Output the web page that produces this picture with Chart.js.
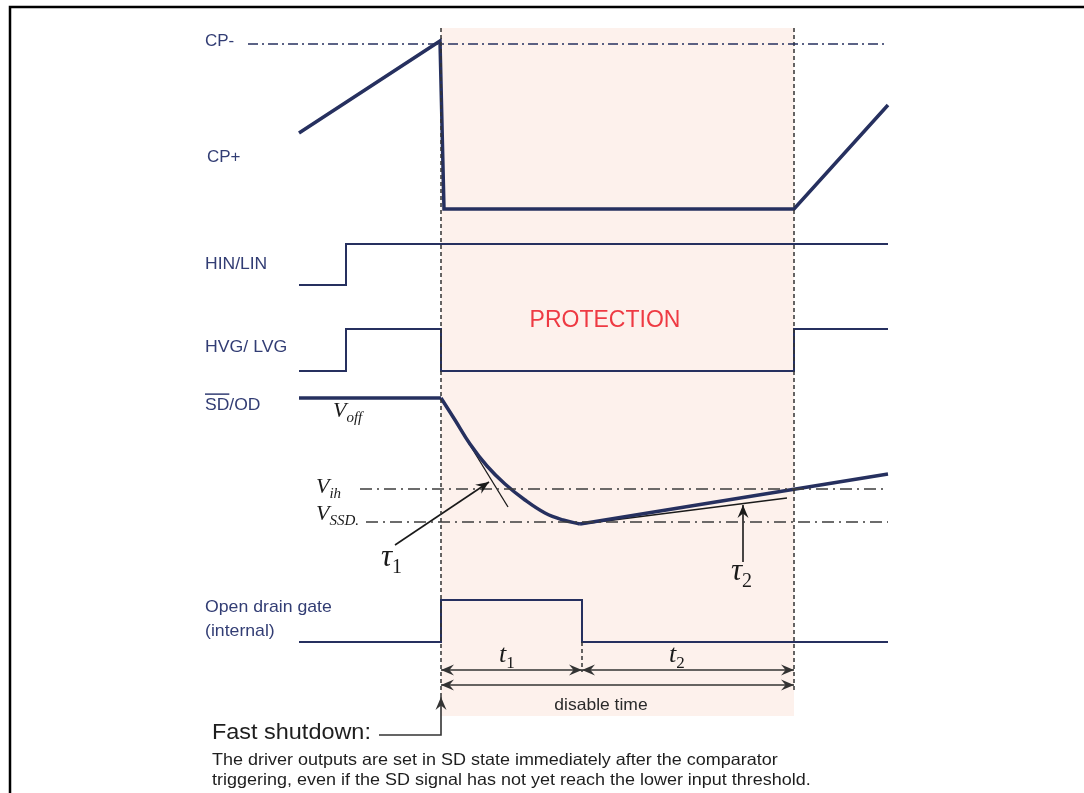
<!DOCTYPE html>
<html>
<head>
<meta charset="utf-8">
<script src="https://cdn.jsdelivr.net/npm/chart.js@4"></script>
<style>
  html, body { margin: 0; padding: 0; background: #fff; }
  #wrap { width: 1084px; height: 793px; }
</style>
</head>
<body>
<div id="wrap"><canvas id="timing"></canvas></div>
<script>
// x = time along the figure, y = signal level (both in figure units, y grows downward)
const cpRamp      = [[299,133],[440,41],[444,209],[794,209],[888,105]];
const cpMinus     = [[248,44],[888,44]];
const hinLin      = [[299,285],[346,285],[346,244],[888,244]];
const hvgLvg      = [[299,371],[346,371],[346,329],[441,329],[441,371],[794,371],[794,329],[888,329]];
const sdFlat      = [[299,398],[441,398]];
const sdDischarge = [[441,398],[455,420],[470,444],[487,466],[505,484],[525,500],[545,513],[563,520],[580,524]];
const sdRecharge  = [[580,524],[888,474]];
const vIh         = [[360,489],[888,489]];
const vSsd        = [[366,522],[888,522]];
const tau1Tangent = [[441,398],[508,507]];
const tau2Tangent = [[582,524],[787,498]];
const tau1Arrow   = [[395,545],[489,482]];
const tau2Arrow   = [[743,562],[743,505]];
const openDrain   = [[299,642],[441,642],[441,600],[582,600],[582,642],[888,642]];
const faultMark   = [[441,28],[441,700]];
const releaseMark = [[794,28],[794,692]];
const t1EndMark   = [[582,642],[582,672]];
const t1Span      = [[441,670],[582,670]];
const t2Span      = [[582,670],[794,670]];
const disableSpan = [[441,685],[794,685]];
const fastArrow   = [[379,735],[441,735],[441,697]];
const protection  = { x0: 441, x1: 794, y0: 28, y1: 716 };

const NAVY = '#26305f';
const NAVY_TXT = '#323d74';

const textLabels = [
  { text: 'CP-', x: 205, y: 41, size: 17, color: NAVY_TXT },
  { text: 'CP+', x: 207, y: 157, size: 17, color: NAVY_TXT },
  { text: 'HIN/LIN', x: 205, y: 264, size: 17, color: NAVY_TXT, sx: 1.03 },
  { text: 'HVG/ LVG', x: 205, y: 347, size: 17, color: NAVY_TXT, sx: 1.04 },
  { text: 'SD/OD', x: 205, y: 405, size: 17, color: NAVY_TXT, overline: 'SD', sx: 1.03 },
  { text: 'Open drain gate', x: 205, y: 607, size: 17, color: NAVY_TXT, sx: 1.04 },
  { text: '(internal)', x: 205, y: 631, size: 17, color: NAVY_TXT, sx: 1.04 },
  { text: 'PROTECTION', x: 605, y: 321, size: 23, color: '#ee3a43', align: 'center' },
  { text: 'disable time', x: 601, y: 705, size: 16.5, color: '#2a2a2a', align: 'center', sx: 1.06 },
  { text: 'Fast shutdown:', x: 212, y: 733, size: 21.5, color: '#1e1e1e', sx: 1.09 },
  { text: 'The driver outputs are set in SD state immediately after the comparator', x: 212, y: 760, size: 16.5, color: '#1e1e1e', sx: 1.09 },
  { text: 'triggering, even if the SD signal has not yet reach the lower input threshold.', x: 212, y: 780, size: 16.5, color: '#1e1e1e', sx: 1.09 }
];

const mathLabels = [
  { main: 'V', sub: 'off', x: 333, y: 417, size: 22 },
  { main: 'V', sub: 'ih', x: 316, y: 493, size: 22 },
  { main: 'V', sub: 'SSD', x: 316, y: 520, size: 22, tail: '.' },
  { main: '\u03C4', sub: '1', x: 381, y: 566, size: 31 },
  { main: '\u03C4', sub: '2', x: 731, y: 580, size: 31 },
  { main: 't', sub: '1', x: 499, y: 662, size: 26 },
  { main: 't', sub: '2', x: 669, y: 662, size: 26 }
];

function line(data, color, width, extra) {
  return Object.assign({
    data: data.map(p => ({ x: p[0], y: p[1] })),
    showLine: true, borderColor: color, borderWidth: width,
    pointRadius: 0, fill: false, tension: 0
  }, extra || {});
}

const datasets = [
  line(cpMinus, NAVY, 1.6, { borderDash: [10, 4, 2, 4] }),
  line(vIh, '#3c3c3c', 1.5, { borderDash: [12, 5, 2, 5] }),
  line(vSsd, '#3c3c3c', 1.5, { borderDash: [12, 5, 2, 5] }),
  line(faultMark, '#333', 1.5, { borderDash: [4, 3] }),
  line(releaseMark, '#333', 1.5, { borderDash: [4, 3] }),
  line(t1EndMark, '#333', 1.5, { borderDash: [4, 3] }),
  line(cpRamp, NAVY, 3.5, { borderJoinStyle: 'miter' }),
  line(hinLin, NAVY, 2, { borderJoinStyle: 'miter' }),
  line(hvgLvg, NAVY, 2, { borderJoinStyle: 'miter' }),
  line(sdFlat, NAVY, 3.5),
  line(sdDischarge, NAVY, 3.5, { tension: 0.4 }),
  line(sdRecharge, NAVY, 3.5),
  line(tau1Tangent, '#1a1a1a', 1.3),
  line(tau2Tangent, '#1a1a1a', 1.3),
  line(openDrain, NAVY, 2, { borderJoinStyle: 'miter' }),
  line(tau1Arrow, '#1a1a1a', 1.6, { arrowEnd: true }),
  line(tau2Arrow, '#1a1a1a', 1.6, { arrowEnd: true }),
  line(t1Span, '#333', 1.6, { arrowStart: true, arrowEnd: true }),
  line(t2Span, '#333', 1.6, { arrowStart: true, arrowEnd: true }),
  line(disableSpan, '#333', 1.6, { arrowStart: true, arrowEnd: true }),
  line(fastArrow, '#333', 1.6, { arrowEnd: true, borderJoinStyle: 'miter' })
];

// shaded protection window + figure frame, under the waveforms
const backdrop = {
  id: 'backdrop',
  beforeDatasetsDraw(chart) {
    const { ctx, scales: { x, y } } = chart;
    ctx.save();
    ctx.fillStyle = '#fdf1ec';
    const px0 = x.getPixelForValue(protection.x0), px1 = x.getPixelForValue(protection.x1);
    const py0 = y.getPixelForValue(protection.y0), py1 = y.getPixelForValue(protection.y1);
    ctx.fillRect(px0, py0, px1 - px0, py1 - py0);
    ctx.strokeStyle = '#000';
    ctx.lineWidth = 2.5;
    ctx.beginPath();
    ctx.moveTo(x.getPixelForValue(10), y.getPixelForValue(793));
    ctx.lineTo(x.getPixelForValue(10), y.getPixelForValue(7));
    ctx.lineTo(x.getPixelForValue(1084), y.getPixelForValue(7));
    ctx.stroke();
    ctx.restore();
  }
};

function head(ctx, tip, from, color) {
  const a = Math.atan2(tip.y - from.y, tip.x - from.x);
  const L = 13, W = 5.5;
  ctx.save();
  ctx.translate(tip.x, tip.y);
  ctx.rotate(a);
  ctx.fillStyle = color;
  ctx.beginPath();
  ctx.moveTo(0, 0);
  ctx.lineTo(-L, -W);
  ctx.lineTo(-L * 0.65, 0);
  ctx.lineTo(-L, W);
  ctx.closePath();
  ctx.fill();
  ctx.restore();
}

const arrows = {
  id: 'arrows',
  afterDatasetsDraw(chart) {
    const ctx = chart.ctx;
    chart.data.datasets.forEach((ds, i) => {
      const pts = chart.getDatasetMeta(i).data;
      if (ds.arrowEnd) head(ctx, pts[pts.length - 1], pts[pts.length - 2], ds.borderColor);
      if (ds.arrowStart) head(ctx, pts[0], pts[1], ds.borderColor);
    });
  }
};

const labels = {
  id: 'labels',
  afterDatasetsDraw(chart) {
    const { ctx, scales: { x, y } } = chart;
    ctx.save();
    ctx.textBaseline = 'middle';
    textLabels.forEach(l => {
      const sx = l.sx || 1;
      ctx.save();
      ctx.font = l.size + 'px "Liberation Sans", Arial, sans-serif';
      ctx.fillStyle = l.color;
      ctx.textAlign = l.align || 'left';
      const px = x.getPixelForValue(l.x), py = y.getPixelForValue(l.y);
      // slight horizontal stretch to match the wider original lettering
      ctx.translate(px, py);
      ctx.scale(sx, 1);
      ctx.fillText(l.text, 0, 0);
      if (l.overline) {
        const w = ctx.measureText(l.overline).width;
        ctx.strokeStyle = l.color;
        ctx.lineWidth = 1.5;
        ctx.beginPath();
        ctx.moveTo(0, -l.size * 0.64);
        ctx.lineTo(w, -l.size * 0.64);
        ctx.stroke();
      }
      ctx.restore();
    });
    ctx.textBaseline = 'alphabetic';
    ctx.textAlign = 'left';
    ctx.fillStyle = '#1a1a1a';
    mathLabels.forEach(m => {
      let px = x.getPixelForValue(m.x);
      const py = y.getPixelForValue(m.y);
      ctx.font = 'italic ' + m.size + 'px "Liberation Serif", "DejaVu Serif", serif';
      ctx.fillText(m.main, px, py);
      px += ctx.measureText(m.main).width;
      const s = Math.round(m.size * 0.66);
      const numeric = /^[0-9]+$/.test(m.sub);
      ctx.font = (numeric ? '' : 'italic ') + s + 'px "Liberation Serif", "DejaVu Serif", serif';
      ctx.fillText(m.sub, px, py + m.size * 0.22);
      px += ctx.measureText(m.sub).width;
      if (m.tail) ctx.fillText(m.tail, px, py + m.size * 0.22);
    });
    ctx.restore();
  }
};

new Chart(document.getElementById('timing'), {
  type: 'scatter',
  data: { datasets },
  options: {
    responsive: true,
    maintainAspectRatio: false,
    animation: false,
    layout: { padding: 0 },
    plugins: { legend: { display: false }, tooltip: { enabled: false } },
    scales: {
      x: { type: 'linear', min: 0, max: 1084, display: false },
      y: { type: 'linear', min: 0, max: 793, reverse: true, display: false }
    }
  },
  plugins: [backdrop, arrows, labels]
});
</script>
</body>
</html>
